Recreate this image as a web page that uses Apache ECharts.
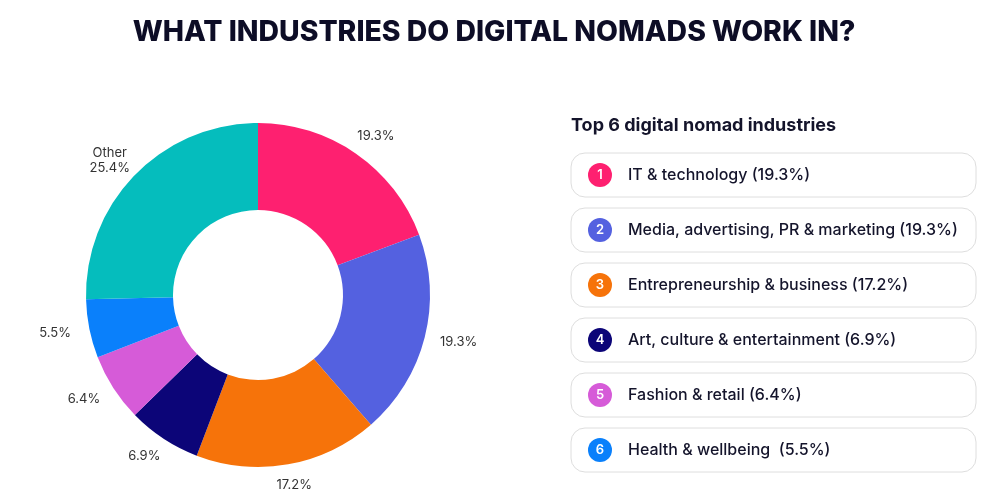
<!DOCTYPE html>
<html>
<head>
<meta charset="utf-8">
<script src="https://cdn.jsdelivr.net/npm/echarts@6/dist/echarts.min.js"></script>
<style>
html, body { margin: 0; padding: 0; background: #fff; }
#chart { width: 988px; height: 495px; }
</style>
</head>
<body>
<div id="chart"></div>
<script>
// data
const industries = ['IT & technology', 'Media, advertising, PR & marketing', 'Entrepreneurship & business',
    'Art, culture & entertainment', 'Fashion & retail', 'Health & wellbeing ', 'Other'];
const shares = [19.3, 19.3, 17.2, 6.9, 6.4, 5.5, 25.4];
const sliceColors = ['#fe2070', '#5461e0', '#f6730a', '#0c0578', '#d65bd8', '#0a80fb', '#05bdbd'];
const topCount = 6;

const chart = echarts.init(document.getElementById('chart'));

const font = 'Inter, "Noto Sans", sans-serif';
const ink = '#14142b';
const pieCenter = [258, 295];
// labels sit on a slightly flattened ring round the donut
const labelRingX = 207;
const labelRingY = 193;

// legend boxes on the right
const legendItems = [];
legendItems.push({
    type: 'text', left: 571, top: 117,
    style: { text: 'Top ' + topCount + ' digital nomad industries', font: 'bold 18px ' + font, fill: ink }
});
for (let i = 0; i < topCount; i++) {
    const top = 153 + i * 55;
    legendItems.push({
        type: 'rect', shape: { x: 571, y: top, width: 405, height: 44, r: 14 },
        style: { fill: '#fff', stroke: '#dedede', lineWidth: 1 }
    });
    legendItems.push({
        type: 'circle', shape: { cx: 600, cy: top + 22, r: 12 },
        style: { fill: sliceColors[i] }
    });
    legendItems.push({
        type: 'text', x: 600, y: top + 22,
        style: { text: String(i + 1), font: '600 13px ' + font, fill: '#fff', align: 'center', verticalAlign: 'middle' }
    });
    legendItems.push({
        type: 'text', x: 628, y: top + 22,
        style: { text: industries[i] + ' (' + shares[i] + '%)', font: '500 16px ' + font, fill: ink, verticalAlign: 'middle' }
    });
}

// centre each label along the slice's middle direction
function ringLabel(params) {
    let px, py;
    const pts = params.labelLinePoints;
    if (pts && pts.length) {
        px = pts[0][0]; py = pts[0][1];
    } else {
        const r = params.labelRect;
        py = r.y + r.height / 2;
        px = params.align === 'right' ? r.x + r.width + 5 : r.x - 5;
    }
    const dx = px - pieCenter[0], dy = py - pieCenter[1];
    const len = Math.sqrt(dx * dx + dy * dy) || 1;
    return {
        x: pieCenter[0] + dx / len * labelRingX,
        y: pieCenter[1] + dy / len * labelRingY,
        align: 'center',
        verticalAlign: 'middle'
    };
}

const option = {
    backgroundColor: '#fff',
    title: {
        text: 'WHAT INDUSTRIES DO DIGITAL NOMADS WORK IN?',
        left: 'center',
        top: 13,
        textStyle: { fontFamily: font, fontSize: 28.4, fontWeight: 800, color: '#0d0d26' }
    },
    graphic: legendItems,
    series: [{
        type: 'pie',
        center: pieCenter,
        radius: [85, 172],
        startAngle: 90,
        clockwise: true,
        silent: true,
        label: {
            show: true,
            position: 'outside',
            fontFamily: font,
            fontSize: 13,
            color: '#333',
            lineHeight: 15,
            formatter: function (p) {
                return p.name === 'Other' ? 'Other\n' + p.value + '%' : p.value + '%';
            }
        },
        labelLine: { show: false, length: 14, length2: 0 },
        labelLayout: ringLabel,
        data: industries.map(function (name, i) {
            return { name: name, value: shares[i], itemStyle: { color: sliceColors[i] } };
        })
    }]
};

chart.setOption(option);
</script>
</body>
</html>
